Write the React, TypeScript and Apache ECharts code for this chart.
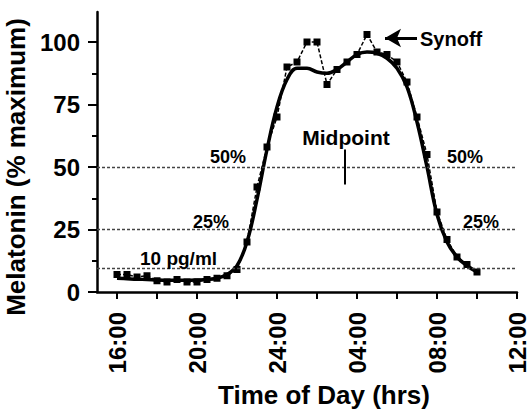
import React, { useEffect, useRef } from "react";
import * as echarts from "echarts";

// Sample times (hours after midnight of day 1; 24+ = next day)
const hours = [
  16, 16.5, 17, 17.5, 18, 18.5, 19, 19.5, 20, 20.5, 21, 21.5, 22, 22.5, 23, 23.5,
  24, 24.5, 25, 25.5, 26, 26.5, 27, 27.5, 28, 28.5, 29, 29.5, 30, 30.5, 31, 31.5,
  32, 32.5, 33, 33.5, 34,
];
// Observed melatonin (% maximum), squares with dashed line
const observed = [
  7, 7, 6, 6.5, 4.5, 4, 5, 4, 4, 5, 5.5, 6.5, 9, 20, 42, 58,
  70, 90, 92, 100, 100, 83, 89, 92, 95, 103, 96, 95, 92, 84, 70, 55,
  32, 21, 14, 11, 8,
];
// Fitted curve (% maximum), thick solid line
const fitted = [
  5.5, 5.3, 5.1, 5, 4.8, 4.7, 4.7, 4.7, 4.8, 5, 5.5, 7, 10.5, 20, 37, 57,
  74, 85, 89.5, 89.5, 88, 87.5, 89, 92, 95, 96, 95.5, 93.5, 89.5, 82, 68, 50,
  31, 20, 14, 10.5, 8,
];
// X tick labels (every 4 hours)
const xLabelHours = [16, 20, 24, 28, 32, 36];
const xLabelTexts = ["16:00", "20:00", "24:00", "04:00", "08:00", "12:00"];
// Threshold lines
const thresholds = [50, 25, 9.5];

const FONT = "'Liberation Sans', Arial, Helvetica, sans-serif";

export default function App() {
  const ref = useRef<HTMLDivElement>(null);
  useEffect(() => {
    if (!ref.current) return;
    const chart = echarts.init(ref.current, null, { renderer: "svg" });
    const obsData = hours.map((h, i) => [h, observed[i]]);
    const fitData = hours.map((h, i) => [h, fitted[i]]);
    const txt = (text: string, x: number, y: number, size: number, align = "left") => ({
      type: "text",
      x,
      y,
      style: {
        text,
        fill: "#000",
        font: `bold ${size}px ${FONT}`,
        textAlign: align,
        textVerticalAlign: "middle",
      },
      z: 10,
    });
    chart.setOption({
      animation: false,
      backgroundColor: "#fff",
      grid: [
        { left: 97, right: 11, top: 12, bottom: 119, containLabel: false, outerBoundsMode: "none" },
        { left: 117, right: 11, top: 42, bottom: 119, containLabel: false, outerBoundsMode: "none" },
      ],
      xAxis: [
        {
          gridIndex: 0,
          type: "value",
          min: 15,
          max: 36,
          axisLine: { show: true, lineStyle: { color: "#000", width: 2.5 } },
          axisTick: { show: false },
          axisLabel: { show: false },
          splitLine: { show: false },
        },
        {
          gridIndex: 1,
          type: "value",
          min: 16,
          max: 36,
          interval: 2,
          axisLine: { show: false },
          axisTick: { show: true, length: 7, lineStyle: { color: "#000", width: 2 } },
          axisLabel: {
            rotate: 90,
            margin: 20,
            color: "#000",
            fontFamily: FONT,
            fontWeight: "bold",
            fontSize: 24,
            lineHeight: 18,
            formatter: (v: number) => {
              const i = xLabelHours.indexOf(v);
              return i >= 0 ? xLabelTexts[i] : "";
            },
          },
          splitLine: { show: false },
          name: "Time of Day (hrs)",
          nameLocation: "middle",
          nameGap: 90,
          nameTextStyle: {
            color: "#000",
            fontFamily: FONT,
            fontWeight: "bold",
            fontSize: 26,
            padding: [0, 0, 0, 14],
          },
        },
      ],
      yAxis: [
        {
          gridIndex: 0,
          type: "value",
          min: 0,
          max: 112,
          axisLine: { show: true, lineStyle: { color: "#000", width: 2.5 } },
          axisTick: { show: false },
          axisLabel: { show: false },
          splitLine: { show: false },
        },
        {
          gridIndex: 1,
          type: "value",
          min: 0,
          max: 100,
          interval: 25,
          offset: 20,
          axisLine: { show: false },
          axisTick: { show: true, length: 9, lineStyle: { color: "#000", width: 2 } },
          minorTick: { show: true, splitNumber: 2, length: 5, lineStyle: { color: "#000", width: 2 } },
          axisLabel: {
            margin: 17,
            color: "#000",
            fontFamily: FONT,
            fontWeight: "bold",
            fontSize: 24,
          },
          splitLine: { show: false },
          minorSplitLine: { show: false },
          name: "Melatonin (% maximum)",
          nameLocation: "middle",
          nameGap: 60,
          nameTextStyle: {
            color: "#000",
            fontFamily: FONT,
            fontWeight: "bold",
            fontSize: 26,
          },
        },
      ],
      series: [
        {
          type: "line",
          xAxisIndex: 0,
          yAxisIndex: 0,
          data: [],
          silent: true,
          markLine: {
            silent: true,
            symbol: ["none", "none"],
            label: { show: false },
            lineStyle: { color: "#444", width: 1.3, type: [3, 2] },
            data: thresholds.map((t) => ({ yAxis: t })),
          },
        },
        {
          name: "Fit",
          type: "line",
          xAxisIndex: 0,
          yAxisIndex: 0,
          data: fitData,
          smooth: 0.4,
          symbol: "none",
          lineStyle: { color: "#000", width: 3.5 },
          z: 3,
        },
        {
          name: "Observed",
          type: "line",
          xAxisIndex: 0,
          yAxisIndex: 0,
          data: obsData,
          symbol: "rect",
          symbolSize: 7,
          itemStyle: { color: "#000" },
          lineStyle: { color: "#000", width: 1.5, type: [4, 2] },
          z: 4,
        },
        {
          type: "line",
          xAxisIndex: 0,
          yAxisIndex: 0,
          data: [],
          silent: true,
          markLine: {
            silent: true,
            label: { show: false },
            data: [
              [
                { coord: [27.4, 43], symbol: "none", lineStyle: { color: "#000", width: 2, type: "solid" } },
                { coord: [27.4, 57], symbol: "none" },
              ],
              [
                { coord: [31.0, 101.6], symbol: "none", lineStyle: { color: "#000", width: 3, type: "solid" } },
                { coord: [29.4, 101.6], symbol: "arrow", symbolSize: [14, 16] },
              ],
            ],
          },
        },
      ],
      graphic: [
        txt("Synoff", 420, 39, 20),
        txt("Midpoint", 346, 137, 21, "center"),
        txt("50%", 210, 157, 18),
        txt("50%", 447, 157, 18),
        txt("25%", 193, 222, 18),
        txt("25%", 463, 222, 18),
        txt("10 pg/ml", 140, 258, 19),
      ],
    });
    return () => chart.dispose();
  }, []);
  return (
    <div
      ref={ref}
      style={{ position: "fixed", left: 0, top: 0, width: 528, height: 411 }}
    />
  );
}
